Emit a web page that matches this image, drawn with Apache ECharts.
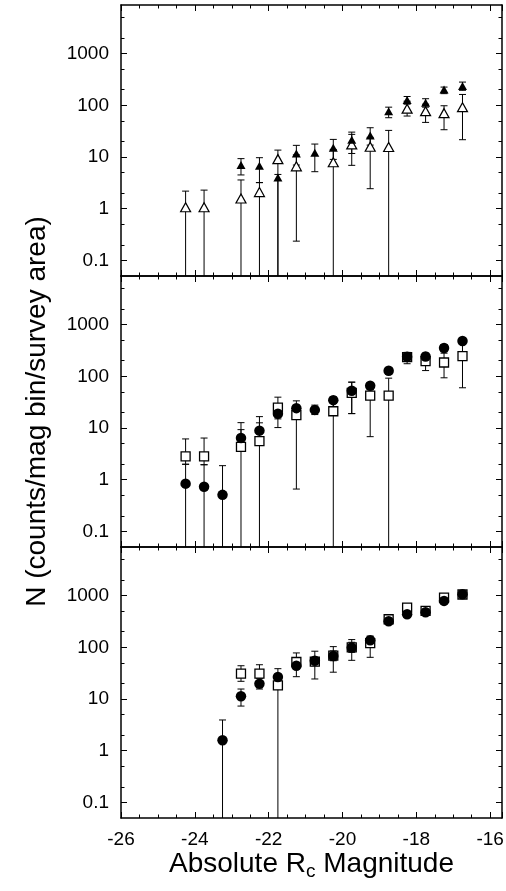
<!DOCTYPE html>
<html><head><meta charset="utf-8">
<script src="https://cdn.jsdelivr.net/npm/echarts@6/dist/echarts.min.js"></script>
<style>html,body{margin:0;padding:0;background:#fff}#c{width:506px;height:891px}</style>
</head><body><div id="c"></div>
<script>
// ---- data ----
const mags = [-24.25, -23.75, -23.25, -22.75, -22.25, -21.75, -21.25, -20.75, -20.25, -19.75, -19.25, -18.75, -18.25, -17.75, -17.25, -16.75];

// top panel
const filledTri   = [null, null, null, 7.0, 6.8, 4.0, 11.7, 12.1, 15.1, 21.6, 26.2, 77, 126, 112, 203, 235];
const filledTriLo = [null, null, null, 4.5, 3.2, 0, 7.0, 5.2, 9.0, 11.7, 17, 57.5, 105, 92, 168, 195];
const filledTriHi = [null, null, null, 9.3, 9.7, 4.6, 16.8, 17.8, 21.9, 30.3, 36.8, 92, 148, 134, 225, 281];
const openTri     = [1.07, 1.07, null, 1.58, 2.1, 9.1, 6.6, null, 7.9, 17.5, 15.8, 15.6, 86, 77, 70.5, 92];
const openTriLo   = [0, 0, null, 0, 0, 0, 0.236, null, 0, 6.9, 2.44, 0, 62, 46.7, 33.7, 21.6];
const openTriHi   = [2.19, 2.29, null, 3.6, 3.2, 13.6, 11, null, 14, 27.4, 24, 32.7, 120, 105, 98, 162];

// middle panel
const circles2   = [0.84, 0.73, 0.51, 6.4, 8.9, 18.8, 24.2, 22.4, 34.6, 52.4, 65.5, 128, 239, 242, 352, 481];
const circles2Lo = [0, 0, 0, 3.6, 5.5, 10.2, 15, 18.2, 26, 19, 55, 110, 200, 210, 300, 420];
const circles2Hi = [1.99, 1.95, 1.87, 12.7, 16.6, 27, 33.5, 27.7, 40, 77, 75, 148, 280, 280, 410, 560];
const squares2   = [2.84, 2.84, null, 4.3, 5.6, 24.8, 17.7, null, 21.1, 47.9, 42.4, 42.4, 235, 197, 185, 246];
const squares2Lo = [1.99, 1.95, null, 0, 0, 15, 0.66, null, 0, 19, 6.8, 0, 175, 129, 93.5, 60];
const squares2Hi = [6.15, 6.4, null, 9.3, 12.6, 39.5, 24, null, 30, 77, 60, 92, 290, 260, 280, 420];

// bottom panel
const circles3   = [null, null, 1.59, 11.3, 19.8, 26.7, 44, 55, 68, 98.6, 137, 319, 436, 477, 789, 1064];
const circles3Lo = [null, null, 0, 7.3, 15.6, 19, 27, 24.4, 33, 56, 100, 280, 380, 420, 700, 950];
const circles3Hi = [null, null, 3.93, 15.6, 25, 38.6, 60, 84, 103, 141, 165, 360, 500, 540, 880, 1190];
const squares3   = [null, null, null, 30.9, 30.9, 18.4, 52, 53, 69, 100, 120, 349, 586, 505, 914, 1050];
const squares3Lo = [null, null, null, 22, 22, 0, 40, 44, 55, 80, 64, 300, 480, 420, 800, 900];
const squares3Hi = [null, null, null, 44, 46, 24, 77.8, 64, 85, 125, 150, 400, 700, 600, 1050, 1200];

// ticks
const yMajor = [0.1, 1, 10, 100, 1000];
const yMinor = [0.2, 0.5, 2, 5, 20, 50, 200, 500, 2000, 5000];
const xTickLabels = [-26, -24, -22, -20, -18, -16];

// ---- chart ----
const FONT = '"Liberation Sans", Arial, sans-serif';
const yMin = 0.05, yMax = 8700;
const xMin = -26, xMax = -15.68;
const panels = [{top: 5, height: 271}, {top: 276, height: 271}, {top: 547, height: 271}];
const black = '#000';

const grids = panels.map(p => ({left: 121, right: 4, top: p.top, height: p.height, containLabel: false, outerBoundsMode: 'none'}));

const xAxes = [];
const yAxes = [];
panels.forEach((p, g) => {
  ['bottom', 'top'].forEach(pos => {
    const ax = {
      gridIndex: g, type: 'value', min: xMin, max: xMax, interval: 2, position: pos,
      axisLine: {show: true, onZero: false, lineStyle: {color: black, width: 1.5}},
      axisTick: {show: true, inside: true, length: 6, lineStyle: {color: black, width: 1}},
      minorTick: {show: true, splitNumber: 4, length: 3.5, lineStyle: {color: black, width: 1}},
      splitLine: {show: false}, minorSplitLine: {show: false},
      axisLabel: {show: false}
    };
    if (pos === 'bottom' && g === 2) {
      ax.axisLabel = {show: true, margin: 12, fontSize: 19, color: black, fontFamily: FONT,
        formatter: v => xTickLabels.includes(v) ? String(v) : ''};
      ax.name = '{a|Absolute R}{s|c}{a| Magnitude}';
      ax.nameLocation = 'middle';
      ax.nameGap = 30;
      ax.nameTextStyle = {color: black, fontFamily: FONT, fontSize: 28,
        rich: {a: {fontSize: 28, fontFamily: FONT, color: black},
               s: {fontSize: 19, fontFamily: FONT, color: black, padding: [14, 0, 0, 0]}}};
    }
    xAxes.push(ax);
  });
  [['left', true], ['left', false], ['right', true], ['right', false]].forEach(([pos, major]) => {
    const ax = {
      gridIndex: g, type: 'log', logBase: 10, min: yMin, max: yMax, position: pos,
      axisLine: {show: major, lineStyle: {color: black, width: 1.5}},
      axisTick: {show: true, inside: true, length: major ? 6 : 3.5, customValues: major ? yMajor : yMinor,
        lineStyle: {color: black, width: 1}},
      minorTick: {show: false}, splitLine: {show: false}, minorSplitLine: {show: false},
      axisLabel: {show: false}
    };
    if (pos === 'left' && major) {
      ax.axisLabel = {show: true, customValues: yMajor, margin: 12, fontSize: 19, color: black, fontFamily: FONT,
        formatter: v => v < 1 ? '0.1' : String(Math.round(v))};
      if (g === 1) {
        ax.name = 'N (counts/mag bin/survey area)';
        ax.nameLocation = 'middle';
        ax.nameGap = 70;
        ax.nameRotate = 90;
        ax.nameTextStyle = {color: black, fontFamily: FONT, fontSize: 28};
      }
    }
    yAxes.push(ax);
  });
});

function pts(vals) {
  return mags.map((m, i) => vals[i] == null ? null : [m, vals[i]]).filter(d => d);
}
function errData(vals, lo, hi) {
  return mags.map((m, i) => vals[i] == null ? null : [m, hi[i], lo[i]]).filter(d => d);
}
function errSeries(g, vals, lo, hi) {
  return {
    type: 'custom', xAxisIndex: 2 * g, yAxisIndex: 4 * g, z: 1, silent: true, clip: true,
    data: errData(vals, lo, hi),
    encode: {x: 0, y: 1},
    renderItem(params, api) {
      const x = api.value(0), hi = api.value(1), lo = api.value(2);
      const cs = params.coordSys;
      const pHi = api.coord([x, hi]);
      const yBot = cs.y + cs.height;
      const pLo = lo > 0 ? api.coord([x, lo]) : [pHi[0], yBot];
      const w = 3.5;
      const st = {stroke: black, lineWidth: 1};
      const children = [
        {type: 'line', shape: {x1: pHi[0], y1: pHi[1], x2: pLo[0], y2: pLo[1]}, style: st},
        {type: 'line', shape: {x1: pHi[0] - w, y1: pHi[1], x2: pHi[0] + w, y2: pHi[1]}, style: st}
      ];
      if (lo > 0) children.push({type: 'line', shape: {x1: pLo[0] - w, y1: pLo[1], x2: pLo[0] + w, y2: pLo[1]}, style: st});
      return {type: 'group', children};
    }
  };
}
function markSeries(g, vals, kind) {
  const s = {type: 'scatter', xAxisIndex: 2 * g, yAxisIndex: 4 * g, data: pts(vals), silent: true, z: 3};
  if (kind === 'openTri') Object.assign(s, {symbol: 'triangle', symbolSize: [10, 9], itemStyle: {color: '#fff', borderColor: black, borderWidth: 1.2, opacity: 1}});
  if (kind === 'filledTri') Object.assign(s, {symbol: 'triangle', symbolSize: [9, 8], z: 4, itemStyle: {color: black, opacity: 1}});
  if (kind === 'square') Object.assign(s, {symbol: 'rect', symbolSize: 9, itemStyle: {color: '#fff', borderColor: black, borderWidth: 1.3, opacity: 1}});
  if (kind === 'circle') Object.assign(s, {symbol: 'circle', symbolSize: 10.5, z: 4, itemStyle: {color: black, opacity: 1}});
  return s;
}

const series = [
  errSeries(0, openTri, openTriLo, openTriHi),
  errSeries(0, filledTri, filledTriLo, filledTriHi),
  markSeries(0, openTri, 'openTri'),
  markSeries(0, filledTri, 'filledTri'),
  errSeries(1, squares2, squares2Lo, squares2Hi),
  errSeries(1, circles2, circles2Lo, circles2Hi),
  markSeries(1, squares2, 'square'),
  markSeries(1, circles2, 'circle'),
  errSeries(2, squares3, squares3Lo, squares3Hi),
  errSeries(2, circles3, circles3Lo, circles3Hi),
  markSeries(2, squares3, 'square'),
  markSeries(2, circles3, 'circle')
];

const chart = echarts.init(document.getElementById('c'), null, {renderer: 'canvas'});
chart.setOption({
  animation: false,
  backgroundColor: '#fff',
  grid: grids,
  xAxis: xAxes,
  yAxis: yAxes,
  series
});
</script>
</body></html>
